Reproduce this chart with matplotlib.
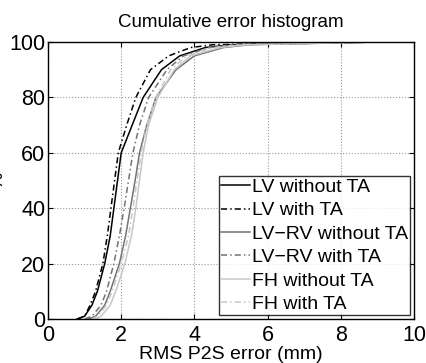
import numpy as np
import matplotlib
matplotlib.use("Agg")
import matplotlib.pyplot as plt

plt.rcParams['font.family'] = ['Liberation Sans', 'DejaVu Sans']

# percent levels of the cumulative histogram
pct = [0, 1, 5, 10, 20, 30, 40, 50, 60, 70, 80, 90, 95, 98, 99, 100]

# RMS error (mm) reached at each percent level
lv_sans = [0.8, 1.0, 1.2, 1.35, 1.55, 1.7, 1.8, 1.9, 2.0, 2.3, 2.6, 3.1, 3.6, 4.3, 5.0, 9.0]
lv_ta = [0.8, 1.0, 1.15, 1.3, 1.5, 1.62, 1.72, 1.82, 1.92, 2.15, 2.4, 2.8, 3.3, 3.9, 4.5, 8.0]
lvrv_sans = [1.1, 1.3, 1.55, 1.7, 1.95, 2.12, 2.25, 2.38, 2.5, 2.7, 2.95, 3.5, 4.0, 4.8, 5.5, 9.0]
lvrv_ta = [1.0, 1.2, 1.45, 1.6, 1.8, 1.95, 2.08, 2.2, 2.32, 2.5, 2.75, 3.25, 3.7, 4.4, 5.0, 9.0]
fh_sans = [1.3, 1.45, 1.7, 1.85, 2.1, 2.28, 2.4, 2.5, 2.6, 2.75, 3.0, 3.45, 3.9, 4.7, 5.4, 9.0]
fh_ta = [1.2, 1.35, 1.6, 1.75, 2.0, 2.2, 2.32, 2.43, 2.55, 2.7, 2.95, 3.35, 3.8, 4.5, 5.2, 9.0]

noms = ['LV without TA', 'LV with TA', 'LV\u2212RV without TA',
        'LV\u2212RV with TA', 'FH without TA', 'FH with TA']
series = [lv_sans, lv_ta, lvrv_sans, lvrv_ta, fh_sans, fh_ta]
cores = ['black', 'black', '0.45', '0.45', '0.78', '0.78']
traco = (0, (4, 2, 1, 2))
estilos = ['-', traco, '-', traco, '-', traco]

fig = plt.figure(figsize=(4.27, 3.63), dpi=100)
ax = fig.add_axes([48/427, 44/363, 366/427, 277/363])

for x, nome, c, ls in zip(series, noms, cores, estilos):
    ax.plot(x, pct, color=c, linestyle=ls, linewidth=1.1, label=nome)

ax.set_xlim(0, 10)
ax.set_ylim(0, 100)
ax.set_xticks([0, 2, 4, 6, 8, 10])
ax.set_yticks([0, 20, 40, 60, 80, 100])
ax.grid(True, linestyle=':', color='0.6', linewidth=0.8)
ax.tick_params(direction='in', top=True, right=True, labelsize=15.5)
ax.tick_params(axis='x', pad=4)
ax.tick_params(axis='y', pad=2)
ax.set_title('Cumulative error histogram', fontsize=13.5, pad=11)
ax.set_xlabel('RMS P2S error (mm)', fontsize=14, labelpad=0)
ax.set_ylabel('%', fontsize=14, labelpad=2)
for s in ax.spines.values():
    s.set_linewidth(1.0)

leg = ax.legend(loc='lower right', fontsize=14, frameon=True, fancybox=False,
                edgecolor='black', borderpad=0.1, labelspacing=0.3,
                handlelength=1.5, handletextpad=0.1, borderaxespad=0.2)
leg.get_frame().set_linewidth(1.0)

fig.savefig('out.png', dpi=100)
